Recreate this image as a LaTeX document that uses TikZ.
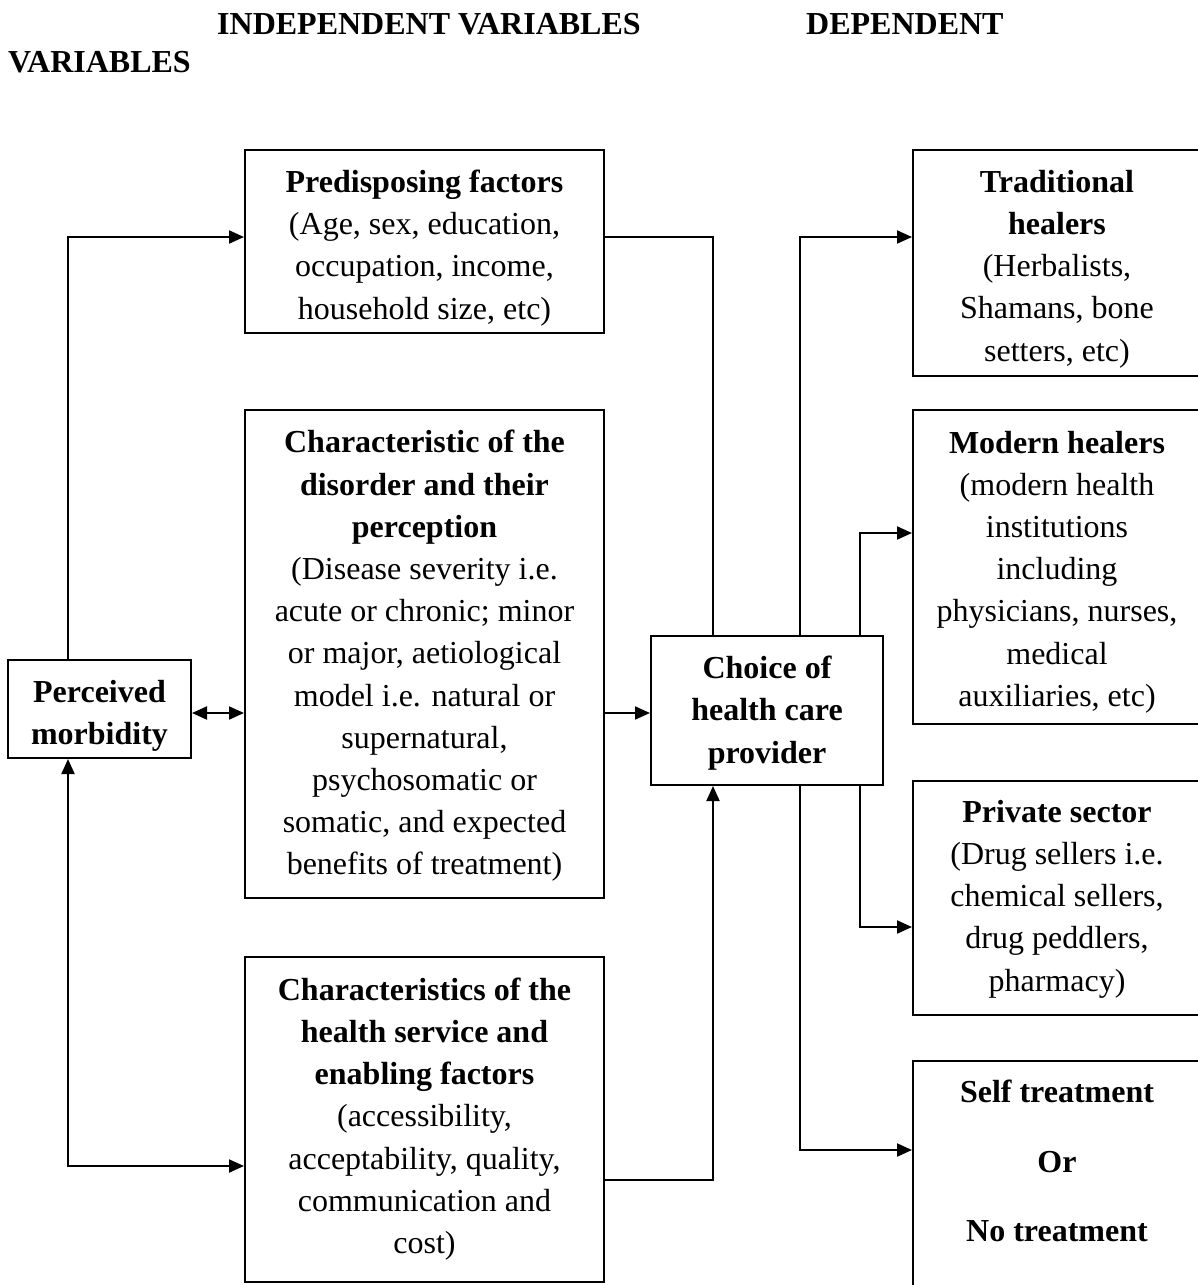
\documentclass[tikz,border=0pt]{standalone}
\usepackage{fontspec}
\setmainfont{Liberation Serif}
\usetikzlibrary{arrows.meta}
\begin{document}
\begin{tikzpicture}[x=1pt,y=-1pt,
  box/.style={draw,line width=2pt,inner sep=0pt},
  txt/.style={inner sep=0pt,align=center,font=\fontsize{32}{42.2}\selectfont},
  lbl/.style={inner sep=0pt,align=center,font=\fontsize{32}{42.2}\selectfont\bfseries},
  title/.style={inner sep=0pt,anchor=base west,font=\fontsize{32}{40}\selectfont\bfseries},
  conn/.style={line width=2pt},
  arr/.style={conn,-{Triangle[length=15pt,width=13pt]}},
  dblarr/.style={conn,{Triangle[length=15pt,width=13pt]}-{Triangle[length=15pt,width=13pt]}},
]
\useasboundingbox (0,0) rectangle (1198,1285);

% titles
\node[title] (t1) at (217,34) {INDEPENDENT VARIABLES};
\node[title] (t2) at (806,34) {DEPENDENT};
\node[title] (t3) at (8,72) {VARIABLES};

% boxes
\node[box,minimum width=183pt,minimum height=98pt] (perc) at (99.5,709) {};
\node[box,minimum width=359pt,minimum height=183pt] (pred) at (424.5,241.5) {};
\node[box,minimum width=359pt,minimum height=488pt] (dis) at (424.5,654) {};
\node[box,minimum width=359pt,minimum height=325pt] (hs) at (424.5,1119.5) {};
\node[box,minimum width=232pt,minimum height=149pt] (choice) at (767,710.5) {};
\node[box,minimum width=288pt,minimum height=226pt] (trad) at (1057,263) {};
\node[box,minimum width=288pt,minimum height=314pt] (mod) at (1057,567) {};
\node[box,minimum width=288pt,minimum height=234pt] (priv) at (1057,898) {};
\node[box,minimum width=288pt,minimum height=239pt] (self) at (1057,1180.5) {};

% texts
\node[lbl] (perct) at (99.5,716) {Perceived\\morbidity};
\node[txt] (predt) at (424.5,248)
  {\textbf{Predisposing factors}\\(Age, sex, education,\\occupation, income,\\household size, etc)};
\node[txt] (dist) at (424.5,656)
  {\textbf{Characteristic of the}\\\textbf{disorder and their}\\\textbf{perception}\\(Disease severity i.e.\\acute or chronic; minor\\or major, aetiological\\model i.e. natural or\\supernatural,\\psychosomatic or\\somatic, and expected\\benefits of treatment)};
\node[txt] (hst) at (424.5,1119)
  {\textbf{Characteristics of the}\\\textbf{health service and}\\\textbf{enabling factors}\\(accessibility,\\acceptability, quality,\\communication and\\cost)};
\node[lbl] (choicet) at (767,713) {Choice of\\health care\\provider};
\node[txt] (tradt) at (1057,269)
  {\textbf{Traditional}\\\textbf{healers}\\(Herbalists,\\Shamans, bone\\setters, etc)};
\node[txt] (modt) at (1057,572)
  {\textbf{Modern healers}\\(modern health\\institutions\\including\\physicians, nurses,\\medical\\auxiliaries, etc)};
\node[txt] (privt) at (1057,899)
  {\textbf{Private sector}\\(Drug sellers i.e.\\chemical sellers,\\drug peddlers,\\pharmacy)};
\node[lbl] (selft) at (1057,1161)
  {Self treatment\\[27pt]Or\\[27pt]No treatment};

% helper coordinates
\coordinate (xl) at (68,0);
\coordinate (xm) at (713,0);
\coordinate (xa) at (800,0);
\coordinate (xb) at (860,0);
\coordinate (ymid) at (0,713);

% connectors
\draw[arr] (perc.north -| xl) |- ([yshift=4.5pt]pred.west);
\draw[dblarr] (perc.south -| xl) |- ([yshift=-46.5pt]hs.west);
\draw[dblarr] (perc.east |- ymid) -- (dis.west |- ymid);
\draw[conn] ([yshift=4.5pt]pred.east) -| (choice.north -| xm);
\draw[arr] (dis.east |- ymid) -- (choice.west |- ymid);
\draw[arr] ([yshift=-60.5pt]hs.east) -| (choice.south -| xm);
\draw[arr] (choice.north -| xa) |- ([yshift=26pt]trad.west);
\draw[arr] (choice.north -| xb) |- ([yshift=34pt]mod.west);
\draw[arr] (choice.south -| xb) |- ([yshift=-29pt]priv.west);
\draw[arr] (choice.south -| xa) |- ([yshift=30.5pt]self.west);
\end{tikzpicture}
\end{document}
